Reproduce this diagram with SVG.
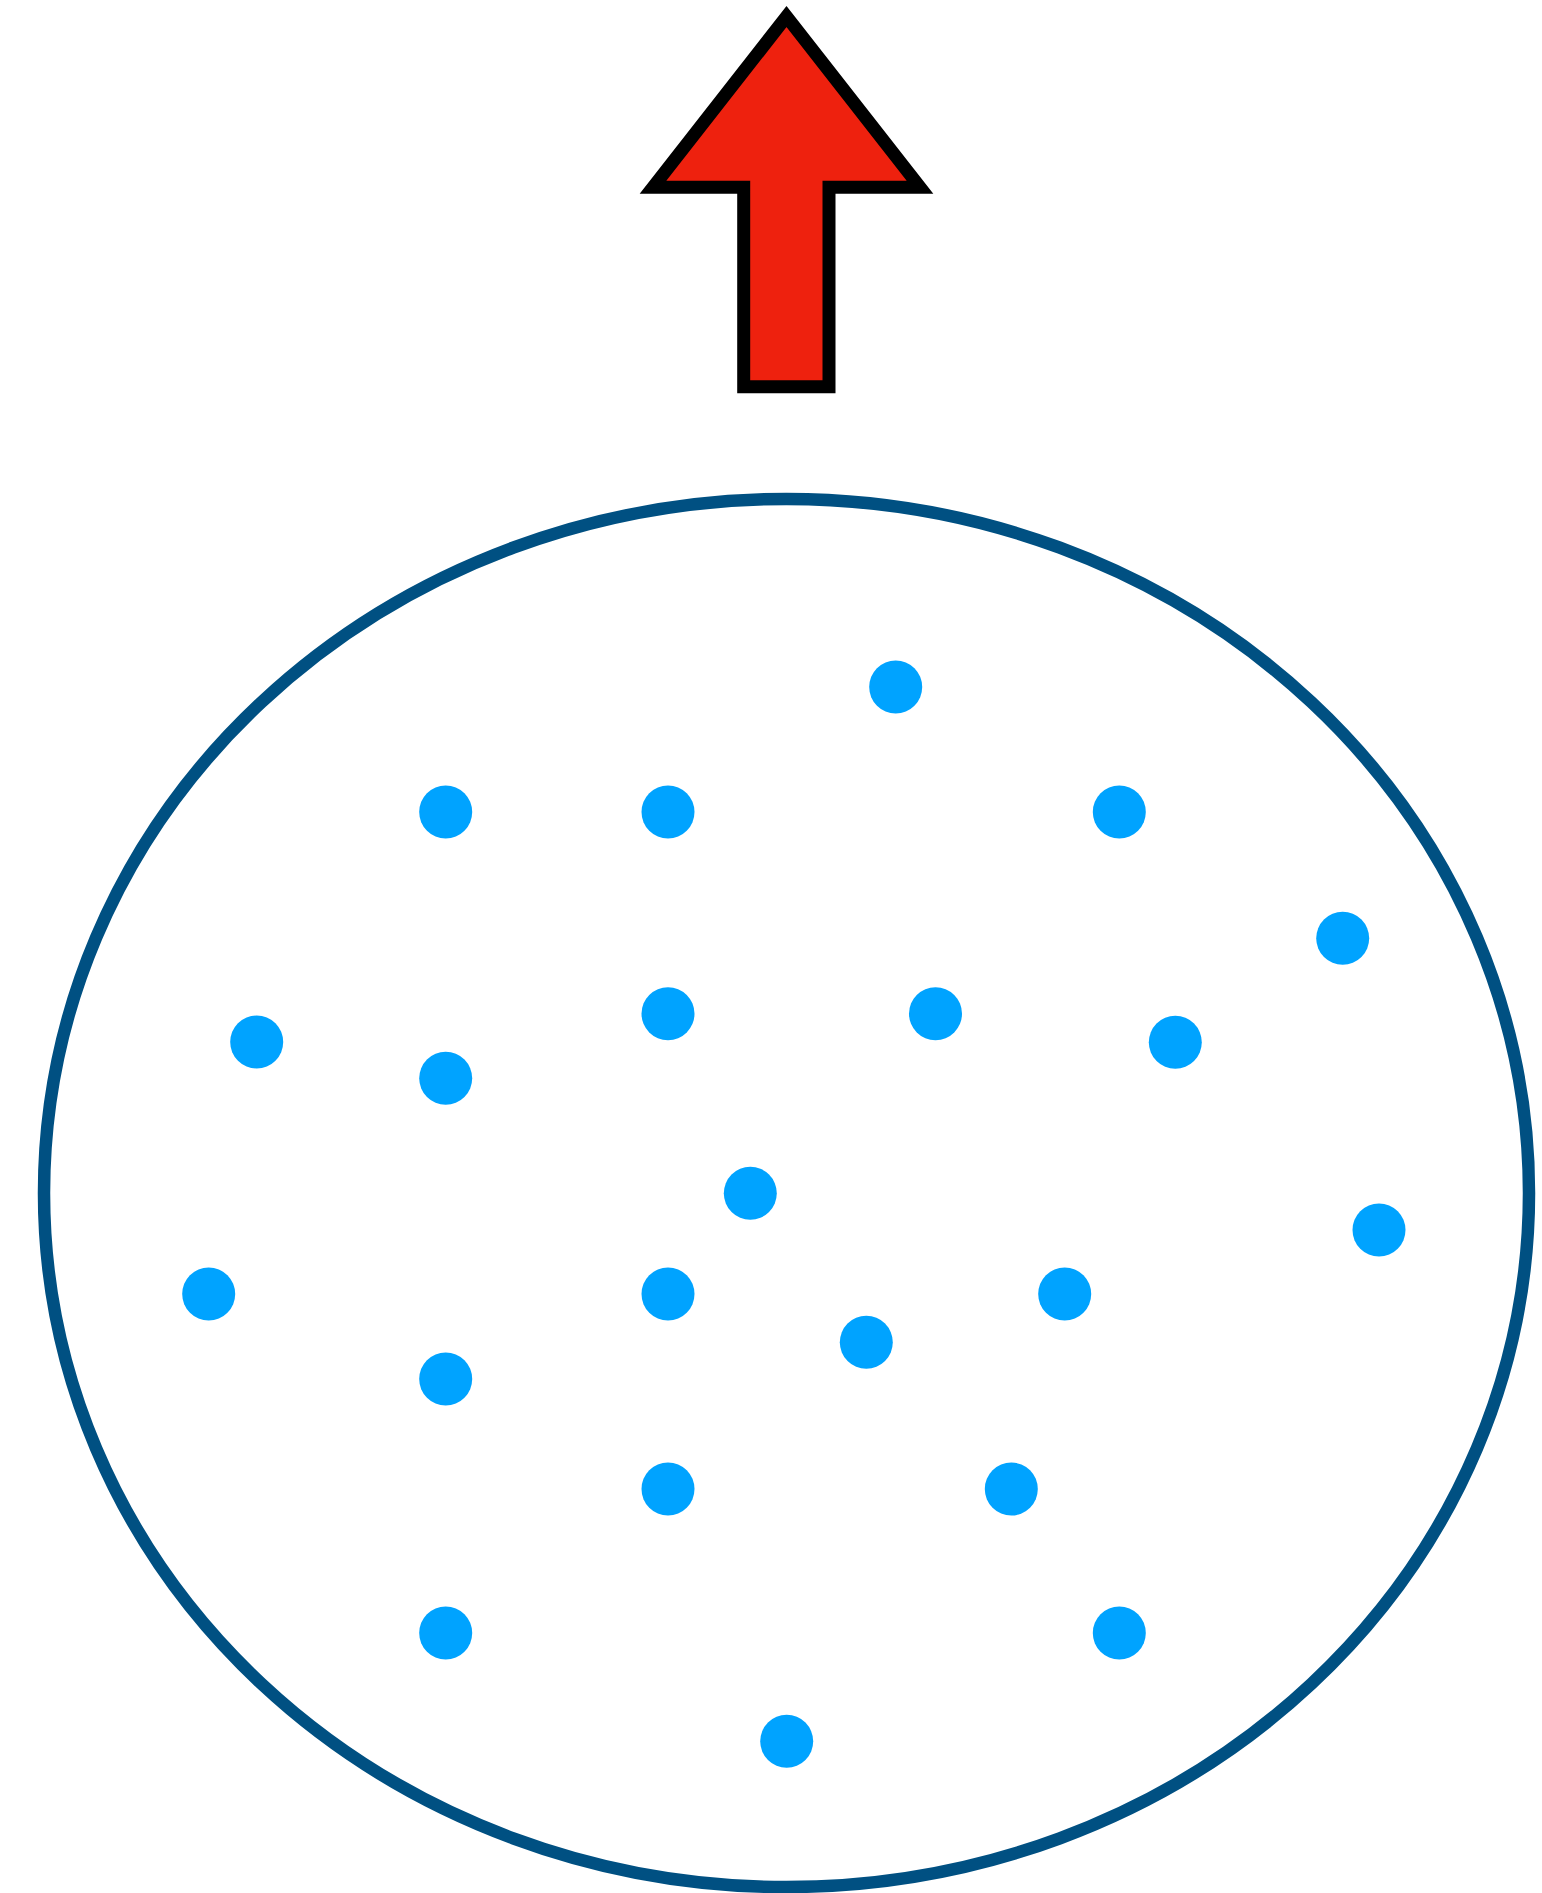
<svg xmlns="http://www.w3.org/2000/svg" width="1542" height="1893" viewBox="0 0 1542 1893">
<style>
.dot{fill:#00A3FF}
.outline{fill:none;stroke:#005082;stroke-width:12.5}
.arrow{fill:#EE210E;stroke:#000;stroke-width:13;stroke-linejoin:miter;stroke-miterlimit:10}
</style>
<rect width="1542" height="1893" fill="#fff"/>
<g id="arrow">
<polygon class="arrow" points="786.5,16.5 920,187.2 829,187.2 829,386.7 743.7,386.7 743.7,187.2 653,187.2"/>
</g>
<g id="container">
<ellipse class="outline" cx="786.5" cy="1193" rx="742.5" ry="694"/>
</g>
<g id="dots">
<circle class="dot" cx="895.7" cy="687" r="26.5"/>
<circle class="dot" cx="445.7" cy="812" r="26.5"/>
<circle class="dot" cx="668" cy="812" r="26.5"/>
<circle class="dot" cx="1119.3" cy="812" r="26.5"/>
<circle class="dot" cx="1342.7" cy="938.3" r="26.5"/>
<circle class="dot" cx="256.7" cy="1042" r="26.5"/>
<circle class="dot" cx="1175.3" cy="1042.3" r="26.5"/>
<circle class="dot" cx="668" cy="1013.7" r="26.5"/>
<circle class="dot" cx="935.5" cy="1013.7" r="26.5"/>
<circle class="dot" cx="445.7" cy="1078.3" r="26.5"/>
<circle class="dot" cx="750.3" cy="1193.3" r="26.5"/>
<circle class="dot" cx="1379" cy="1230" r="26.5"/>
<circle class="dot" cx="208.7" cy="1294" r="26.5"/>
<circle class="dot" cx="668" cy="1294" r="26.5"/>
<circle class="dot" cx="1064.7" cy="1294" r="26.5"/>
<circle class="dot" cx="866.3" cy="1342.3" r="26.5"/>
<circle class="dot" cx="445.7" cy="1379" r="26.5"/>
<circle class="dot" cx="668" cy="1489" r="26.5"/>
<circle class="dot" cx="1011.3" cy="1489" r="26.5"/>
<circle class="dot" cx="445.7" cy="1633" r="26.5"/>
<circle class="dot" cx="1119.3" cy="1633" r="26.5"/>
<circle class="dot" cx="786.7" cy="1741.3" r="26.5"/>
</g>
</svg>
